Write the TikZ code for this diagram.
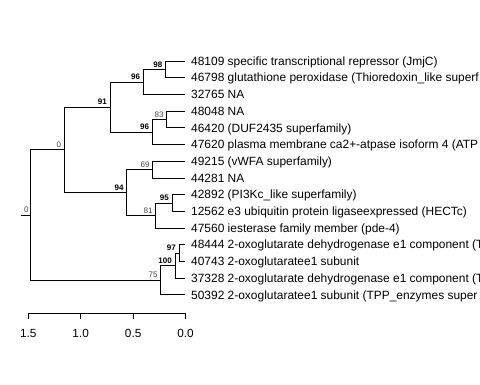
\documentclass[tikz,border=0pt]{standalone}
\usepackage{fontspec}
\setmainfont{Liberation Sans}
\begin{document}
\begin{tikzpicture}[x=1pt,y=-1pt,
  br/.style={draw=black, line width=0.8pt},
  leaf/.style={anchor=west, inner xsep=6pt, inner ysep=0pt, font=\fontsize{11.95}{12}\selectfont, text height=11pt, text depth=2.5pt},
  bs/.style={anchor=south east, inner sep=1pt, font=\fontsize{8}{8}\selectfont\bfseries, text=black},
  bn/.style={anchor=south east, inner sep=1pt, font=\fontsize{8}{8}\selectfont, text=black!72},
  axl/.style={font=\fontsize{11.8}{12}\selectfont, inner sep=0pt}]
\useasboundingbox (0,0) rectangle (480,384);
\clip (0,0) rectangle (480,384);
% leaves
\node[leaf] (l0) at (185,61) {48109 specific transcriptional repressor (JmjC)};
\node[leaf] (l1) at (185,77.7) {46798 glutathione peroxidase (Thioredoxin\_like superf};
\node[leaf] (l2) at (185,94.4) {32765 NA};
\node[leaf] (l3) at (185,111.1) {48048 NA};
\node[leaf] (l4) at (185,127.8) {46420 (DUF2435 superfamily)};
\node[leaf] (l5) at (185,144.5) {47620 plasma membrane ca2+-atpase isoform 4 (ATP};
\node[leaf] (l6) at (185,161.2) {49215 (vWFA superfamily)};
\node[leaf] (l7) at (185,177.9) {44281 NA};
\node[leaf] (l8) at (185,194.6) {42892 (PI3Kc\_like superfamily)};
\node[leaf] (l9) at (185,211.3) {12562 e3 ubiquitin protein ligaseexpressed (HECTc)};
\node[leaf] (l10) at (185,228) {47560 iesterase family member (pde-4)};
\node[leaf] (l11) at (185,244.7) {48444 2-oxoglutarate dehydrogenase e1 component (T};
\node[leaf] (l12) at (185,261.4) {40743 2-oxoglutaratee1 subunit};
\node[leaf] (l13) at (185,278.1) {37328 2-oxoglutarate dehydrogenase e1 component (T};
\node[leaf] (l14) at (185,294.8) {50392 2-oxoglutaratee1 subunit (TPP\_enzymes super};
% internal nodes
\coordinate (n98) at (165.5,69.35);
\coordinate (n96a) at (143.3,81.9);
\coordinate (n83) at (166.7,119.45);
\coordinate (n96b) at (152.3,132);
\coordinate (n91) at (110,107);
\coordinate (n69) at (152.7,169.55);
\coordinate (n95) at (172,202.95);
\coordinate (n81) at (155.7,215.5);
\coordinate (n94) at (126.7,192.5);
\coordinate (n0) at (64.3,149.75);
\coordinate (n97) at (179,253.05);
\coordinate (n100) at (175,265.6);
\coordinate (n75) at (160.7,280.2);
\coordinate (root) at (30.7,215);
\coordinate (stub) at (20.5,215);
% branches
\draw[br] (n98) |- (l0.west);
\draw[br] (n98) |- (l1.west);
\draw[br] (n96a) |- (n98);
\draw[br] (n96a) |- (l2.west);
\draw[br] (n83) |- (l3.west);
\draw[br] (n83) |- (l4.west);
\draw[br] (n96b) |- (n83);
\draw[br] (n96b) |- (l5.west);
\draw[br] (n91) |- (n96a);
\draw[br] (n91) |- (n96b);
\draw[br] (n69) |- (l6.west);
\draw[br] (n69) |- (l7.west);
\draw[br] (n95) |- (l8.west);
\draw[br] (n95) |- (l9.west);
\draw[br] (n81) |- (n95);
\draw[br] (n81) |- (l10.west);
\draw[br] (n94) |- (n69);
\draw[br] (n94) |- (n81);
\draw[br] (n0) |- (n91);
\draw[br] (n0) |- (n94);
\draw[br] (n97) |- (l11.west);
\draw[br] (n97) |- (l12.west);
\draw[br] (n100) |- (n97);
\draw[br] (n100) |- (l13.west);
\draw[br] (n75) |- (n100);
\draw[br] (n75) |- (l14.west);
\draw[br] (root) |- (n0);
\draw[br] (root) |- (n75);
\draw[br] (stub) -- (root);
% bootstrap labels
\node[bs] (b98) at ([xshift=-2pt,yshift=1pt]n98) {98};
\node[bs] (b96a) at ([xshift=-2pt,yshift=1pt]n96a) {96};
\node[bn] (b83) at ([xshift=-2pt,yshift=1pt]n83) {83};
\node[bs] (b96b) at ([xshift=-2pt,yshift=1pt]n96b) {96};
\node[bs] (b91) at ([xshift=-2pt,yshift=1pt]n91) {91};
\node[bn] (b69) at ([xshift=-2pt,yshift=1pt]n69) {69};
\node[bs] (b95) at ([xshift=-2pt,yshift=1pt]n95) {95};
\node[bn] (b81) at ([xshift=-2pt,yshift=1pt]n81) {81};
\node[bs] (b94) at ([xshift=-2pt,yshift=1pt]n94) {94};
\node[bn] (b0) at ([xshift=-2pt,yshift=1pt]n0) {0};
\node[bs] (b97) at ([xshift=-2pt,yshift=1pt]n97) {97};
\node[bs] (b100) at ([xshift=-2pt,yshift=1pt]n100) {100};
\node[bn] (b75) at ([xshift=-2pt,yshift=1pt]n75) {75};
\node[bn] (broot) at ([xshift=-1pt,yshift=1pt]root) {0};
% axis
\coordinate (t15) at (28.3,313.3);
\coordinate (t10) at (80.7,313.3);
\coordinate (t05) at (133.2,313.3);
\coordinate (t00) at (185.6,313.3);
\draw[br] (t15) -- (t00);
\foreach \t in {t15,t10,t05,t00} \draw[br] (\t) -- ++(0,5.5);
\node[axl] (a15) at (28.3,333.3) {1.5};
\node[axl] (a10) at (80.7,333.3) {1.0};
\node[axl] (a05) at (133.2,333.3) {0.5};
\node[axl] (a00) at (185.6,333.3) {0.0};
\end{tikzpicture}
\end{document}
